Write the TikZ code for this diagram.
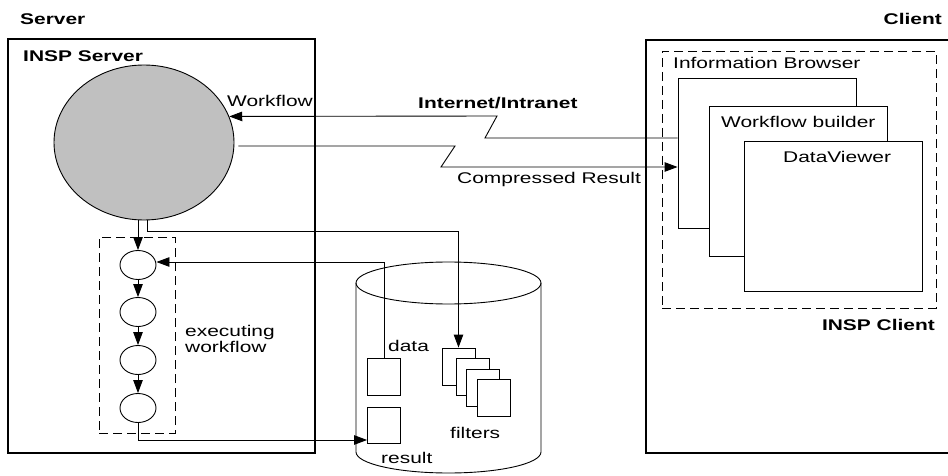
\documentclass[tikz,border=0pt]{standalone}
\usepackage{fontspec}
\setmainfont{Liberation Sans}[FakeStretch=1.35]
\usetikzlibrary{arrows.meta,shapes.geometric,calc}
\definecolor{srvgray}{RGB}{192,192,192}
\begin{document}
\begin{tikzpicture}[x=1pt,y=-1pt,
  lbl/.style={inner sep=0pt, anchor=base west, font=\fontsize{15.5}{18}\selectfont},
  blbl/.style={inner sep=0pt, anchor=base west, font=\fontsize{15.5}{18}\selectfont\bfseries},
  ln/.style={line width=0.9pt, draw=black},
  arr/.style={ln, -{Triangle[length=13pt,width=9.5pt]}},
  bigbox/.style={draw, line width=2.8pt, rectangle, inner sep=0pt},
  dashbox/.style={draw, line width=0.9pt, dash pattern=on 9pt off 5pt, rectangle, inner sep=0pt},
  win/.style={draw, line width=0.9pt, fill=white, rectangle, inner sep=0pt, minimum width=178pt, minimum height=150pt},
  doc/.style={draw, line width=0.9pt, fill=white, rectangle, inner sep=0pt, minimum width=33pt, minimum height=37pt},
  wfnode/.style={ellipse, draw, line width=0.9pt, minimum width=36pt, minimum height=29pt, inner sep=0pt}
]
\useasboundingbox (0,0) rectangle (948,476);
\fill[white] (0,0) rectangle (948,476);

% Server side
\node[blbl] (srvlbl) at (20,25) {Server};
\node[bigbox, minimum width=307pt, minimum height=414pt] (server) at (161.5,246) {};
\node[blbl] (insps) at (23,62) {INSP Server};
\node[ellipse, draw, line width=0.9pt, fill=srvgray, minimum width=180pt, minimum height=155pt, inner sep=0pt] (srv) at (144,142.5) {};
\node[lbl] (wflbl) at (227,107) {Workflow};

\node[dashbox, minimum width=76pt, minimum height=196pt] (exec) at (137,335) {};
\node[wfnode] (c1) at (138,265) {};
\node[wfnode] (c2) at (138,312) {};
\node[wfnode] (c3) at (138,360) {};
\node[wfnode] (c4) at (138,408) {};
\node[lbl] (ex1) at (185,336) {executing};
\node[lbl] (ex2) at (185,352) {workflow};

% Database cylinder
\draw[ln] (356,283) -- (356,452) arc[start angle=180, end angle=0, x radius=92.5, y radius=21] -- (541,283);
\draw[ln] (448.5,283) ellipse [x radius=92.5, y radius=21];
\node[doc] (data) at (384,376.5) {};
\node[lbl] (datalbl) at (388,351) {data};
\node[doc, minimum height=36pt] (res) at (384,425) {};
\node[lbl] (reslbl) at (381,463) {result};
\node[doc] (f1) at (458.5,366.5) {};
\node[doc] (f2) at (472.5,377) {};
\node[doc] (f3) at (482.5,387.5) {};
\node[doc] (f4) at (493.5,397.5) {};
\node[lbl] (fillbl) at (450,438) {filters};

% Client side
\node[blbl, anchor=base east] (clilbl) at (942,25) {Client};
\draw[line width=2.8pt] (948,40) -- (646,40) -- (646,453) -- (948,453);
\node[dashbox, minimum width=274pt, minimum height=257pt] (clidash) at (799,179.5) {};
\node[lbl] (iblbl) at (673,69) {Information Browser};
\node[win] (ib) at (767,153) {};
\node[win] (wb) at (798,181) {};
\node[lbl] (wblbl) at (721,128) {Workflow builder};
\node[win] (dv) at (833,216) {};
\node[lbl] (dvlbl) at (783,163) {DataViewer};
\node[blbl, anchor=base east] (inspc) at (935,330) {INSP Client};

% Network connectors
\node[blbl] (netlbl) at (418,109) {Internet/Intranet};
\draw[arr] ($(ib.west)+(0,-15)$) -- (485,138) -- (497,116) -- (srv.17.4);
\draw[arr] ($(srv.east)+(4,3.5)$) -- (455,146) -- (441,167) -- ($(ib.west)+(0,14)$);
\node[lbl] (crlbl) at (457,183) {Compressed Result};

% Internal connectors
\draw[arr] (c1.north |- srv.south) -- (c1.north);
\draw[arr] ([xshift=3pt]srv.south) -- ++(0,11) -| (f1.north);
\draw[arr] (data.north) |- ([yshift=3pt]c1.east);
\draw[arr] (c1.south) -- (c2.north);
\draw[arr] (c2.south) -- (c3.north);
\draw[arr] (c3.south) -- (c4.north);
\draw[arr] (c4.south) |- ([yshift=-15pt]res.west);
\end{tikzpicture}
\end{document}
